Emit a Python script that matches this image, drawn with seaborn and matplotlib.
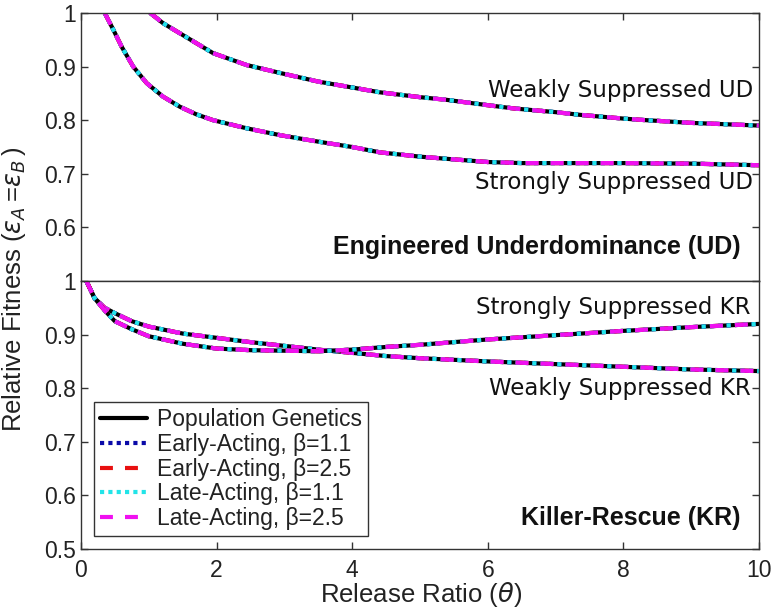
import matplotlib
matplotlib.use("Agg")
import matplotlib.pyplot as plt
from matplotlib.ticker import FixedLocator, FuncFormatter
import seaborn as sns
import pandas as pd

# ---------------- data ----------------
series_names = ["Population Genetics", "Early-Acting, β=1.1", "Early-Acting, β=2.5",
                "Late-Acting, β=1.1", "Late-Acting, β=2.5"]
series_colors = ["#000000", "#0a0aa8", "#e81010", "#22e4e8", "#f010f0"]

theta_ud_weak = [1.02, 1.21, 1.46, 1.71, 1.95, 2.44, 2.94, 3.5, 4.0, 4.41, 5.0, 5.39,
                 6.0, 6.38, 7.0, 7.36, 8.0, 8.34, 9.0, 10.0]
fit_ud_weak = [1.0, 0.981, 0.962, 0.943, 0.925, 0.903, 0.888, 0.872, 0.861, 0.852, 0.843,
               0.838, 0.828, 0.822, 0.815, 0.81, 0.803, 0.80, 0.795, 0.79]

theta_ud_strong = [0.35, 0.48, 0.6, 0.77, 0.97, 1.21, 1.46, 1.7, 1.95, 2.44, 2.94, 3.5, 4.0,
                   4.41, 5.0, 5.39, 6.0, 6.5, 7.0, 8.0, 9.0, 10.0]
fit_ud_strong = [1.0, 0.968, 0.937, 0.90, 0.869, 0.844, 0.825, 0.811, 0.80, 0.785, 0.772, 0.76,
                 0.75, 0.74, 0.732, 0.728, 0.722, 0.72, 0.72, 0.72, 0.719, 0.716]

theta_kr = [0.08, 0.2, 0.35, 0.5, 0.75, 1.0, 1.5, 2.0, 2.5, 3.0, 3.5, 4.0, 4.5, 5.0,
            5.5, 6.0, 7.0, 8.0, 9.0, 10.0]
fit_kr_weak = [1.0, 0.968, 0.95, 0.94, 0.925, 0.915, 0.902, 0.894, 0.886, 0.879, 0.872,
               0.866, 0.86, 0.856, 0.853, 0.85, 0.845, 0.84, 0.835, 0.832]
fit_kr_strong = [1.0, 0.968, 0.945, 0.925, 0.91, 0.897, 0.883, 0.874, 0.871, 0.87, 0.869,
                 0.872, 0.877, 0.881, 0.886, 0.891, 0.899, 0.907, 0.914, 0.92]

x_ticks = [0, 2, 4, 6, 8, 10]
y_ticks_top = [0.6, 0.7, 0.8, 0.9, 1.0]
y_ticks_bot = [0.5, 0.6, 0.7, 0.8, 0.9, 1.0]

# ---------------- style ----------------
sns.set_style("ticks")
plt.rcParams["font.family"] = ["Liberation Sans", "DejaVu Sans"]
plt.rcParams["mathtext.fontset"] = "dejavusans"
plt.rcParams["axes.edgecolor"] = "#333333"
plt.rcParams["text.color"] = "#222222"

line_styles = ["-", (0, (1, 1)), (0, (3.1, 2.9)), (0, (1, 1)), (0, (3.1, 2.9))]
line_widths = [3.0, 3.0, 3.0, 3.0, 3.0]

fig = plt.figure(figsize=(7.75, 6.12), dpi=100)
ax_top = fig.add_axes([0.1045, 0.5408, 0.8748, 0.4380])
ax_bot = fig.add_axes([0.1045, 0.1029, 0.8748, 0.4379])

curves_top = [(theta_ud_weak, fit_ud_weak), (theta_ud_strong, fit_ud_strong)]
curves_bot = [(theta_kr, fit_kr_weak), (theta_kr, fit_kr_strong)]

for ax, curves, show_label in [(ax_top, curves_top, False), (ax_bot, curves_bot, True)]:
    for ci, (xs, ys) in enumerate(curves):
        df = pd.DataFrame({"theta": xs, "fitness": ys})
        for si, name in enumerate(series_names):
            sns.lineplot(data=df, x="theta", y="fitness", ax=ax, color=series_colors[si],
                         linestyle=line_styles[si], linewidth=line_widths[si],
                         estimator=None, sort=False,
                         label=name if (show_label and ci == 0) else None,
                         legend=False)

fmt = FuncFormatter(lambda v, p: "1" if abs(v - 1) < 1e-9 else ("%g" % v))
for ax, yt in [(ax_top, y_ticks_top), (ax_bot, y_ticks_bot)]:
    ax.set_xlim(0, 10)
    ax.set_ylim(0.5, 1.0)
    ax.xaxis.set_major_locator(FixedLocator(x_ticks))
    ax.yaxis.set_major_locator(FixedLocator(yt))
    ax.yaxis.set_major_formatter(fmt)
    ax.set_xlabel("")
    ax.set_ylabel("")
    for s in ax.spines.values():
        s.set_visible(True)
        s.set_linewidth(1.0)
    ax.tick_params(direction="in", length=5, width=1, colors="#333333",
                   labelsize=16.5, labelcolor="#222222", right=True)

ax_top.tick_params(axis="x", top=True, bottom=False, labelbottom=False)
ax_bot.tick_params(axis="x", top=False, bottom=True, pad=7)

fig.text(0.018, 0.527, r"Relative Fitness ($\epsilon_{A}\,$=$\epsilon_{B}\,$)", rotation=90,
         ha="center", va="center", fontsize=18.5)
fig.text(0.544, 0.0294, r"Release Ratio ($\theta$)", ha="center", va="center", fontsize=18.5)

ann = dict(ha="right", va="center", fontsize=16.5, family="DejaVu Sans", color="#111111")
ax_top.text(9.91, 0.856, "Weakly Suppressed UD", **ann)
ax_top.text(9.91, 0.683, "Strongly Suppressed UD", **ann)
ax_bot.text(9.88, 0.95, "Strongly Suppressed KR", **ann)
ax_bot.text(9.88, 0.80, "Weakly Suppressed KR", **ann)

ax_top.text(9.73, 0.563, "Engineered Underdominance (UD)", ha="right", va="center",
            fontsize=18, fontweight="bold", color="#111111")
ax_bot.text(9.73, 0.558, "Killer-Rescue (KR)", ha="right", va="center",
            fontsize=18, fontweight="bold", color="#111111")

leg = ax_bot.legend(loc="lower left", bbox_to_anchor=(0.019, 0.0485), borderaxespad=0,
                    fontsize=16.5, frameon=True, fancybox=False, handlelength=2.05,
                    labelspacing=0.08, borderpad=0.25, handletextpad=0.45)
leg.get_frame().set_edgecolor("#333333")
leg.get_frame().set_linewidth(1.0)
leg.get_frame().set_alpha(1)

fig.savefig("out.png", dpi=100, facecolor="white")
